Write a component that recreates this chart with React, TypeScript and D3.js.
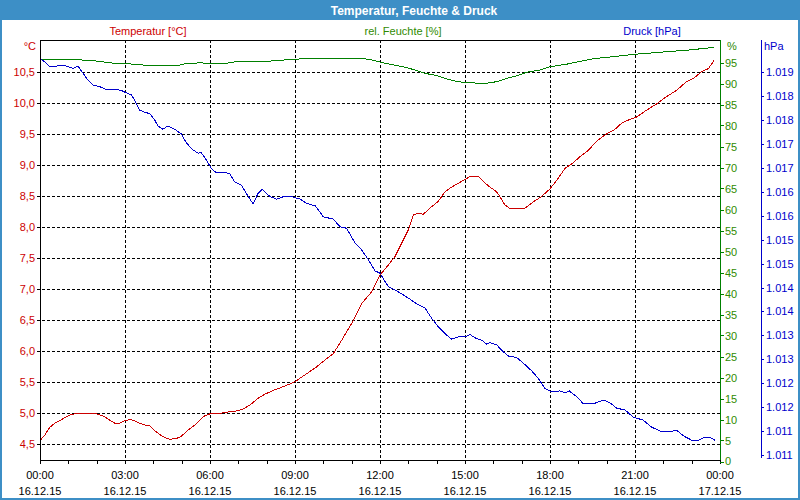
import React from "react";
import * as d3 from "d3";

const temperature: [number, number][] = [
  [0.02, 4.57], [0.17, 4.65], [0.34, 4.77], [0.52, 4.84], [0.7, 4.88], [0.87, 4.93], [1.05, 4.97], [1.22, 4.99],
  [1.46, 4.99], [1.69, 5.0], [1.99, 4.99], [2.22, 4.96], [2.46, 4.89], [2.64, 4.84], [2.81, 4.84], [2.99, 4.88],
  [3.17, 4.9], [3.34, 4.88], [3.52, 4.84], [3.7, 4.81], [3.87, 4.8], [4.05, 4.72], [4.22, 4.66], [4.4, 4.61],
  [4.58, 4.58], [4.75, 4.59], [4.93, 4.61], [5.11, 4.68], [5.28, 4.75], [5.46, 4.81], [5.64, 4.89], [5.81, 4.96],
  [5.99, 4.99], [6.17, 4.99], [6.52, 5.01], [6.75, 5.03], [6.99, 5.04], [7.22, 5.08], [7.46, 5.15], [7.69, 5.24],
  [7.94, 5.31], [8.29, 5.38], [8.65, 5.44], [9.0, 5.51], [9.35, 5.62], [9.71, 5.73], [10.06, 5.86], [10.35, 5.96],
  [10.65, 6.18], [11.0, 6.45], [11.35, 6.77], [11.71, 6.96], [12.0, 7.23], [12.29, 7.39], [12.53, 7.53], [12.76, 7.74],
  [13.0, 7.96], [13.18, 8.2], [13.35, 8.23], [13.53, 8.21], [13.76, 8.31], [14.06, 8.42], [14.29, 8.57], [14.53, 8.65],
  [14.76, 8.71], [15.0, 8.77], [15.18, 8.82], [15.47, 8.82], [15.71, 8.71], [15.88, 8.65], [16.12, 8.57], [16.24, 8.49],
  [16.41, 8.36], [16.59, 8.3], [16.82, 8.31], [17.12, 8.31], [17.41, 8.41], [17.71, 8.5], [18.0, 8.62], [18.24, 8.76],
  [18.53, 8.95], [18.82, 9.04], [19.06, 9.14], [19.35, 9.24], [19.65, 9.39], [19.94, 9.49], [20.29, 9.58], [20.53, 9.68],
  [20.82, 9.74], [21.06, 9.78], [21.41, 9.89], [21.76, 9.99], [22.12, 10.11], [22.47, 10.21], [22.82, 10.35], [23.06, 10.4],
  [23.35, 10.51], [23.59, 10.56], [23.79, 10.69],
];

const humidity: [number, number][] = [
  [0.02, 95.8], [1.4, 95.8], [1.52, 95.5], [1.93, 95.4], [2.28, 95.1], [2.64, 94.8], [3.34, 94.6], [3.81, 94.3],
  [4.87, 94.3], [5.11, 94.7], [5.69, 94.95], [5.81, 94.8], [6.58, 94.8], [6.75, 95.05], [7.1, 95.3], [8.05, 95.3],
  [9.0, 95.8], [9.94, 96.0], [11.12, 96.0], [11.59, 95.8], [12.0, 95.1], [12.41, 94.5], [12.88, 93.9], [13.24, 93.2],
  [13.59, 92.4], [13.94, 92.0], [14.41, 91.0], [14.76, 90.4], [15.24, 90.2], [15.65, 89.9], [15.94, 90.3], [16.12, 90.4],
  [16.47, 91.2], [16.82, 91.8], [17.18, 92.7], [17.65, 93.2], [18.0, 94.0], [18.59, 94.6], [18.94, 95.1], [19.53, 95.9],
  [20.24, 96.4], [21.06, 97.0], [22.0, 97.5], [22.94, 98.0], [23.79, 98.6],
];

const pressure: [number, number][] = [
  [0.02, 1019.27], [0.17, 1019.22], [0.34, 1019.12], [0.58, 1019.13], [0.81, 1019.15], [0.99, 1019.12], [1.16, 1019.08],
  [1.34, 1019.13], [1.52, 1018.98], [1.69, 1018.84], [1.87, 1018.73], [2.11, 1018.7], [2.34, 1018.64], [2.52, 1018.63],
  [2.69, 1018.64], [2.87, 1018.62], [3.05, 1018.57], [3.22, 1018.53], [3.34, 1018.42], [3.52, 1018.21], [3.7, 1018.16],
  [3.87, 1018.14], [4.05, 1018.0], [4.16, 1017.88], [4.34, 1017.81], [4.52, 1017.88], [4.75, 1017.81], [4.99, 1017.71],
  [5.17, 1017.52], [5.4, 1017.38], [5.58, 1017.31], [5.69, 1017.32], [5.87, 1017.17], [6.05, 1016.99], [6.22, 1016.9],
  [6.52, 1016.9], [6.69, 1016.89], [6.87, 1016.71], [7.11, 1016.64], [7.28, 1016.47], [7.52, 1016.25], [7.69, 1016.46],
  [7.84, 1016.55], [7.94, 1016.5], [8.12, 1016.4], [8.35, 1016.35], [8.59, 1016.4], [8.88, 1016.4], [9.18, 1016.35],
  [9.41, 1016.26], [9.71, 1016.21], [10.0, 1015.98], [10.35, 1015.93], [10.59, 1015.77], [10.82, 1015.74], [11.12, 1015.43],
  [11.35, 1015.29], [11.59, 1015.08], [11.82, 1014.85], [12.0, 1014.8], [12.29, 1014.52], [12.65, 1014.41], [13.0, 1014.28],
  [13.35, 1014.14], [13.59, 1014.07], [13.82, 1013.86], [14.06, 1013.68], [14.35, 1013.51], [14.53, 1013.42], [14.76, 1013.47],
  [15.0, 1013.47], [15.18, 1013.52], [15.35, 1013.45], [15.59, 1013.4], [15.76, 1013.32], [15.88, 1013.35], [16.12, 1013.3],
  [16.35, 1013.16], [16.53, 1013.07], [16.82, 1013.04], [17.06, 1012.92], [17.35, 1012.76], [17.59, 1012.6], [17.82, 1012.39],
  [18.06, 1012.32], [18.35, 1012.34], [18.53, 1012.3], [18.68, 1012.34], [18.94, 1012.22], [19.18, 1012.07], [19.53, 1012.07],
  [19.88, 1012.15], [20.12, 1012.09], [20.35, 1011.98], [20.65, 1011.94], [20.94, 1011.79], [21.29, 1011.73], [21.59, 1011.58],
  [21.94, 1011.49], [22.24, 1011.49], [22.47, 1011.52], [22.71, 1011.4], [23.0, 1011.31], [23.24, 1011.31], [23.47, 1011.37],
  [23.65, 1011.37], [23.82, 1011.31],
];

const tempTicks = [4.5, 5, 5.5, 6, 6.5, 7, 7.5, 8, 8.5, 9, 9.5, 10, 10.5];
const humTicks = [0, 5, 10, 15, 20, 25, 30, 35, 40, 45, 50, 55, 60, 65, 70, 75, 80, 85, 90, 95];
const pressTicks = [1011, 1011.5, 1012, 1012.5, 1013, 1013.5, 1014, 1014.5, 1015, 1015.5, 1016, 1016.5, 1017, 1017.5, 1018, 1018.5, 1019];
const timeTicks = [0, 3, 6, 9, 12, 15, 18, 21, 24];
const timeLabels = ["00:00", "03:00", "06:00", "09:00", "12:00", "15:00", "18:00", "21:00", "00:00"];
const dateLabels = ["16.12.15", "16.12.15", "16.12.15", "16.12.15", "16.12.15", "16.12.15", "16.12.15", "16.12.15", "17.12.15"];
const hourTicks = d3.range(0, 25);

const TITLE = "Temperatur, Feuchte & Druck";
const RED = "#cc0000";
const GREEN = "#008000";
const GREEN_TXT = "#2f8a00";
const BLUE = "#0000cc";
const FRAME = "#3d8fc6";
const FONT = "'Liberation Sans', Arial, sans-serif";

export default function App() {
  const x = d3.scaleLinear().domain([0, 24]).range([40, 720]);
  const yT = d3.scaleLinear().domain([4.5, 10.5]).range([444.3, 72.3]);
  const yH = d3.scaleLinear().domain([0, 100]).range([461.5, 41.5]);
  const yP = d3.scaleLinear().domain([1011, 1019]).range([455, 72.3]);
  const px = (v: number) => Math.round(v) + 0.5;

  const mk = (ys: d3.ScaleLinear<number, number>) =>
    d3.line<[number, number]>().x((d) => x(d[0])).y((d) => ys(d[1]));

  const fmtT = (v: number) => v.toFixed(1).replace(".", ",");
  const fmtP = (v: number) => "1." + String(Math.floor(v) - 1000).padStart(3, "0");

  return (
    <svg width={800} height={500} style={{ position: "absolute", left: 0, top: 0, background: "#fff" }} fontFamily={FONT}>
      <defs>
        <clipPath id="plot">
          <rect x={40} y={40} width={680} height={420} />
        </clipPath>
      </defs>
      <rect x={0} y={0} width={800} height={500} fill="#ffffff" />
      <rect x={1} y={1} width={798} height={498} fill="none" stroke={FRAME} strokeWidth={2} />
      <rect x={0} y={0} width={800} height={20} fill={FRAME} />
      <text x={414} y={14.5} textAnchor="middle" fontSize={12} fontWeight="bold" fill="#ffffff">{TITLE}</text>

      <text x={148} y={35} textAnchor="middle" fontSize={11} fill={RED}>Temperatur [°C]</text>
      <text x={403} y={35} textAnchor="middle" fontSize={11} fill={GREEN_TXT}>rel. Feuchte [%]</text>
      <text x={652} y={35} textAnchor="middle" fontSize={11} fill={BLUE}>Druck [hPa]</text>

      {/* grid */}
      <g stroke="#000" strokeDasharray="3,2" shapeRendering="crispEdges">
        {tempTicks.map((t) => (
          <line key={"h" + t} x1={37} x2={720} y1={px(yT(t))} y2={px(yT(t))} />
        ))}
        {timeTicks.slice(1, -1).map((t) => (
          <line key={"v" + t} x1={px(x(t))} x2={px(x(t))} y1={40} y2={460} />
        ))}
      </g>

      {/* series */}
      <g clipPath="url(#plot)" fill="none" strokeWidth={1} shapeRendering="crispEdges">
        <path d={mk(yH)(humidity) || ""} stroke={GREEN} />
        <path d={mk(yP)(pressure) || ""} stroke={BLUE} />
        <path d={mk(yT)(temperature) || ""} stroke={RED} />
      </g>

      {/* frame axes */}
      <g shapeRendering="crispEdges">
        <line x1={40} x2={720} y1={40.5} y2={40.5} stroke="#000" />
        <line x1={40} x2={721} y1={460.5} y2={460.5} stroke="#000" />
        <line x1={40.5} x2={40.5} y1={40} y2={461} stroke="#000" />
        <line x1={720.5} x2={720.5} y1={40} y2={461} stroke={GREEN} />
        <line x1={761.5} x2={761.5} y1={40} y2={458} stroke={BLUE} />
        {hourTicks.map((h) => (
          <line key={"t" + h} x1={px(x(h))} x2={px(x(h))} y1={460} y2={464} stroke="#000" />
        ))}
        {humTicks.map((h) => (
          <line key={"hm" + h} x1={720} x2={724} y1={px(yH(h))} y2={px(yH(h))} stroke={GREEN} />
        ))}
        {pressTicks.map((p) => (
          <line key={"pt" + p} x1={761} x2={764} y1={px(yP(p))} y2={px(yP(p))} stroke={BLUE} />
        ))}
      </g>

      {/* labels */}
      <g fontSize={11}>
        <text x={36} y={50} textAnchor="end" fill={RED}>°C</text>
        {tempTicks.map((t) => (
          <text key={"tl" + t} x={35} y={yT(t) + 4} textAnchor="end" fill={RED}>{fmtT(t)}</text>
        ))}
        <text x={727} y={50} fill={GREEN_TXT}>%</text>
        {humTicks.map((h) => (
          <text key={"hl" + h} x={725} y={Math.min(yH(h), 461) + 4} fill={GREEN_TXT}>{h}</text>
        ))}
        <text x={764} y={50} fill={BLUE}>hPa</text>
        {pressTicks.map((p) => (
          <text key={"pl" + p} x={766} y={yP(p) + 4} fill={BLUE}>{fmtP(p)}</text>
        ))}
        {timeTicks.map((t, i) => (
          <g key={"x" + i}>
            <text x={x(t)} y={479} textAnchor="middle" fill="#000">{timeLabels[i]}</text>
            <text x={x(t)} y={495} textAnchor="middle" fill="#000">{dateLabels[i]}</text>
          </g>
        ))}
      </g>
    </svg>
  );
}
